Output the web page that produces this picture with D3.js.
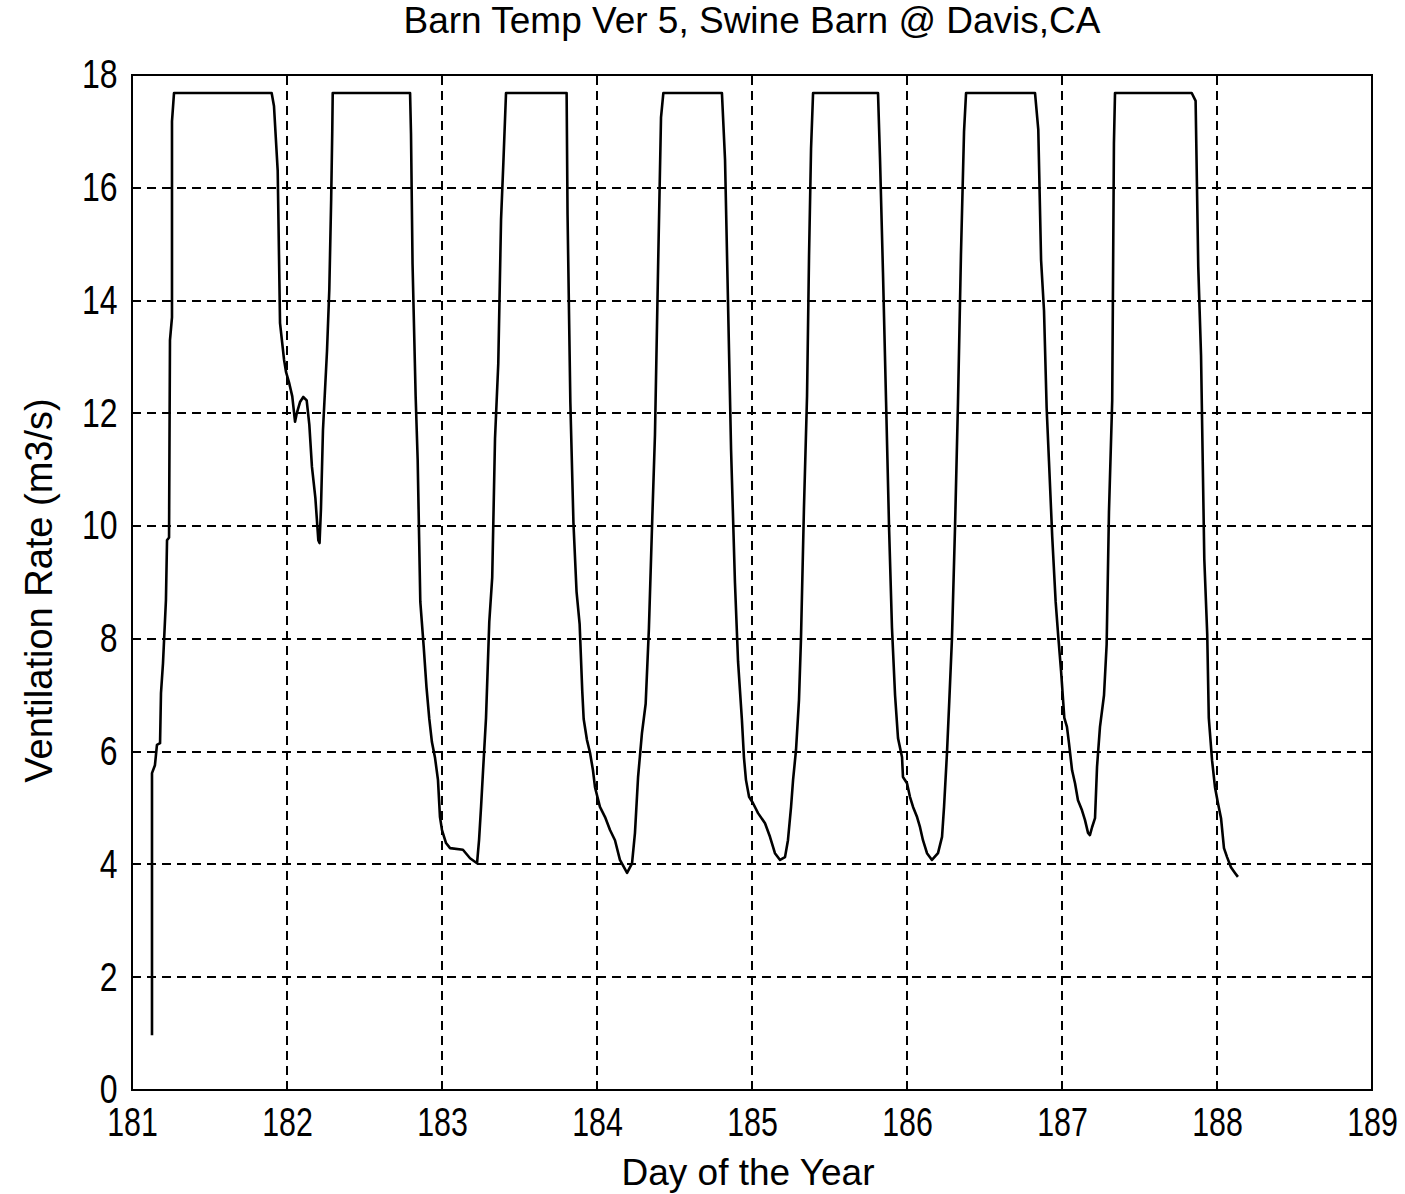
<!DOCTYPE html>
<html>
<head>
<meta charset="utf-8">
<script src="https://cdn.jsdelivr.net/npm/d3@7"></script>
<style>
  body { margin: 0; background: #fff; }
  text { font-family: "Liberation Sans", Arial, sans-serif; fill: #000; }
</style>
</head>
<body>
<div id="container"></div>
<script>
/* CONSTANTS AND GLOBALS */
const width = 1405,
  height = 1194,
  margin = { top: 75, bottom: 104, left: 132, right: 33 }

const titleText = 'Barn Temp Ver 5, Swine Barn @ Davis,CA'
const xLabelText = 'Day of the Year'
const yLabelText = 'Ventilation Rate (m3/s)'

const xTicks = [181, 182, 183, 184, 185, 186, 187, 188, 189]
const yTicks = [0, 2, 4, 6, 8, 10, 12, 14, 16, 18]

// day of year
const dayOfYear = [
  181.129, 181.129, 181.148, 181.161, 181.181, 181.187, 181.200, 181.219, 181.226, 181.239,
  181.245, 181.258, 181.258, 181.271, 181.901, 181.916, 181.940, 181.955, 181.981, 181.994,
  182.013, 182.034, 182.052, 182.063, 182.084, 182.105, 182.127, 182.144, 182.161, 182.183,
  182.202, 182.210, 182.219, 182.232, 182.258, 182.273, 182.285, 182.292, 182.295, 182.794,
  182.800, 182.810, 182.830, 182.843, 182.860, 182.882, 182.900, 182.918, 182.935, 182.955,
  182.974, 182.987, 183.000, 183.026, 183.052, 183.135, 183.181, 183.226, 183.239, 183.252,
  183.265, 183.284, 183.305, 183.324, 183.342, 183.363, 183.381, 183.396, 183.413, 183.804,
  183.810, 183.828, 183.848, 183.868, 183.888, 183.905, 183.914, 183.935, 183.955, 183.974,
  183.987, 184.019, 184.052, 184.084, 184.116, 184.148, 184.194, 184.226, 184.245, 184.265,
  184.290, 184.314, 184.335, 184.357, 184.374, 184.395, 184.413, 184.428, 184.806, 184.826,
  184.845, 184.865, 184.890, 184.910, 184.935, 184.948, 184.961, 184.981, 185.006, 185.039,
  185.084, 185.116, 185.148, 185.181, 185.213, 185.232, 185.252, 185.265, 185.284, 185.303,
  185.316, 185.335, 185.355, 185.368, 185.381, 185.394, 185.813, 185.826, 185.845, 185.865,
  185.884, 185.903, 185.923, 185.942, 185.968, 185.974, 186.000, 186.019, 186.039, 186.065,
  186.084, 186.103, 186.129, 186.161, 186.200, 186.226, 186.239, 186.258, 186.273, 186.290,
  186.310, 186.329, 186.348, 186.368, 186.381, 186.826, 186.847, 186.865, 186.884, 186.901,
  186.916, 186.937, 186.959, 186.976, 186.994, 187.015, 187.032, 187.045, 187.065, 187.084,
  187.103, 187.129, 187.148, 187.168, 187.180, 187.194, 187.213, 187.226, 187.245, 187.271,
  187.288, 187.303, 187.324, 187.335, 187.342, 187.837, 187.862, 187.879, 187.897, 187.918,
  187.937, 187.947, 187.968, 187.987, 188.006, 188.026, 188.045, 188.065, 188.090, 188.116,
  188.135
]

// ventilation rate (m3/s), same order
const ventRate = [
  0.97, 5.62, 5.76, 6.12, 6.15, 7.04, 7.57, 8.69, 9.75, 9.80,
  13.30, 13.70, 17.18, 17.68, 17.68, 17.45, 16.30, 13.60, 12.95, 12.73,
  12.55, 12.30, 11.85, 12.00, 12.20, 12.29, 12.23, 11.80, 11.05, 10.50,
  9.75, 9.70, 10.30, 11.70, 13.10, 14.20, 15.80, 17.00, 17.68, 17.68,
  16.96, 14.65, 12.30, 11.18, 8.66, 7.86, 7.14, 6.58, 6.17, 5.89,
  5.50, 4.84, 4.61, 4.38, 4.29, 4.26, 4.11, 4.02, 4.43, 5.02,
  5.67, 6.60, 8.30, 9.09, 11.55, 12.88, 15.44, 16.45, 17.68, 17.68,
  15.52, 12.20, 10.06, 8.84, 8.26, 7.07, 6.58, 6.21, 5.98, 5.67,
  5.37, 5.02, 4.84, 4.61, 4.43, 4.08, 3.85, 4.02, 4.56, 5.55,
  6.33, 6.85, 8.19, 10.17, 11.62, 14.72, 17.25, 17.68, 17.68, 16.50,
  14.00, 11.35, 9.00, 7.60, 6.56, 5.90, 5.50, 5.20, 5.09, 4.91,
  4.73, 4.49, 4.20, 4.08, 4.13, 4.43, 5.02, 5.50, 6.03, 6.91,
  8.00, 10.30, 12.30, 14.80, 16.70, 17.68, 17.68, 16.50, 14.50, 12.20,
  10.00, 8.20, 7.00, 6.24, 5.90, 5.55, 5.44, 5.20, 5.02, 4.84,
  4.66, 4.43, 4.20, 4.08, 4.20, 4.49, 5.02, 5.98, 6.91, 8.00,
  10.00, 12.20, 14.80, 17.00, 17.68, 17.68, 17.03, 14.72, 13.82, 12.09,
  11.15, 9.81, 8.66, 8.04, 7.43, 6.60, 6.44, 6.15, 5.67, 5.44,
  5.14, 4.96, 4.79, 4.56, 4.52, 4.66, 4.82, 5.73, 6.44, 7.00,
  7.90, 10.25, 12.23, 16.78, 17.68, 17.68, 17.54, 14.61, 13.03, 9.42,
  8.08, 6.60, 5.85, 5.37, 5.09, 4.82, 4.29, 4.13, 3.95, 3.85,
  3.78
]

const data = dayOfYear.map((d, i) => ({ day: d, rate: ventRate[i] }))

/* SCALES */
const xScale = d3.scaleLinear()
  .domain([181, 189])
  .range([margin.left, width - margin.right])

const yScale = d3.scaleLinear()
  .domain([0, 18])
  .range([height - margin.bottom, margin.top])

/* SVG */
const svg = d3.select('#container')
  .append('svg')
  .attr('width', width)
  .attr('height', height)

// grid
svg.append('g')
  .selectAll('line')
  .data(xTicks.slice(1, -1))
  .join('line')
  .attr('x1', d => xScale(d))
  .attr('x2', d => xScale(d))
  .attr('y1', yScale(0))
  .attr('y2', yScale(18))
  .attr('stroke', '#000')
  .attr('stroke-width', 2)
  .attr('stroke-dasharray', '9,6')
  .attr('shape-rendering', 'crispEdges')

svg.append('g')
  .selectAll('line')
  .data(yTicks.slice(1, -1))
  .join('line')
  .attr('x1', xScale(181))
  .attr('x2', xScale(189))
  .attr('y1', d => yScale(d))
  .attr('y2', d => yScale(d))
  .attr('stroke', '#000')
  .attr('stroke-width', 2)
  .attr('stroke-dasharray', '9,6')
  .attr('shape-rendering', 'crispEdges')

// the curve
const line = d3.line()
  .x(d => xScale(d.day))
  .y(d => yScale(d.rate))

svg.append('path')
  .datum(data)
  .attr('d', line)
  .attr('fill', 'none')
  .attr('stroke', '#000')
  .attr('stroke-width', 2.6)
  .attr('stroke-linejoin', 'round')

// axes: the bitmap font of the original is narrow, so labels are squeezed
const xAxis = d3.axisBottom(xScale).tickValues(xTicks).tickSize(0).tickPadding(18).tickFormat(d3.format('d'))
const yAxis = d3.axisLeft(yScale).tickValues(yTicks).tickSize(0).tickPadding(18).tickFormat(d3.format('d'))

svg.append('g')
  .attr('transform', `translate(0, ${height - margin.bottom})`)
  .call(xAxis)
  .call(g => g.select('.domain').remove())
  .selectAll('text')
  .style('font-size', '40px')
  .attr('transform', 'scale(0.76,1)')

svg.append('g')
  .attr('transform', `translate(${margin.left}, 0)`)
  .call(yAxis)
  .call(g => g.select('.domain').remove())
  .selectAll('text')
  .style('font-size', '40px')
  .attr('transform', 'scale(0.8,1)')

// frame
svg.append('rect')
  .attr('x', xScale(181))
  .attr('y', yScale(18))
  .attr('width', xScale(189) - xScale(181))
  .attr('height', yScale(0) - yScale(18))
  .attr('fill', 'none')
  .attr('stroke', '#000')
  .attr('stroke-width', 2)
  .attr('shape-rendering', 'crispEdges')

// titles
svg.append('text')
  .attr('x', (xScale(181) + xScale(189)) / 2)
  .attr('y', 33)
  .attr('text-anchor', 'middle')
  .style('font-size', '37px')
  .text(titleText)

svg.append('text')
  .attr('x', 748)
  .attr('y', 1185)
  .attr('text-anchor', 'middle')
  .style('font-size', '37px')
  .text(xLabelText)

svg.append('text')
  .attr('transform', `translate(52, ${(yScale(0) + yScale(18)) / 2 + 8}) rotate(-90)`)
  .attr('text-anchor', 'middle')
  .style('font-size', '38px')
  .text(yLabelText)
</script>
</body>
</html>
